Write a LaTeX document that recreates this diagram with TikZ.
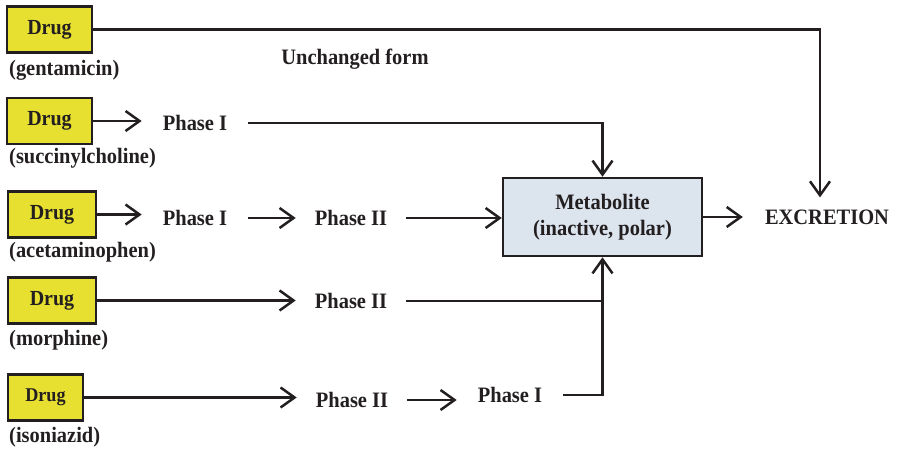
\documentclass[tikz,border=0pt]{standalone}
\usepackage{fontspec}
\setmainfont{Liberation Serif}[FakeStretch=0.93]
\usetikzlibrary{arrows.meta}
\definecolor{ink}{HTML}{231F20}
\definecolor{drugyellow}{HTML}{E8E030}
\definecolor{metblue}{HTML}{DCE4EE}
\tikzset{
  drugbox/.style={draw=ink, line width=2.5pt, fill=drugyellow, minimum height=46pt, inner sep=0pt, font=\fontsize{21.5}{24}\selectfont\bfseries, text=ink},
  lbl/.style={anchor=west, inner sep=0pt, font=\fontsize{22}{24}\selectfont\bfseries, text=ink},
  phase/.style={inner xsep=21pt, inner ysep=4pt, font=\fontsize{22}{24}\selectfont\bfseries, text=ink},
  conn/.style={draw=ink, line width=2.5pt},
  arr/.style={conn, -{Straight Barb[length=14pt,width=20pt,line width=2.5pt]}},
}
\begin{document}
\begin{tikzpicture}[x=1pt,y=-1pt]
\useasboundingbox (0,0) rectangle (898,450);
% drug boxes
\node[drugbox, minimum width=85pt] (d1) at (49.5,29.5) {Drug};
\node[drugbox, minimum width=85pt] (d2) at (49.5,121) {Drug};
\node[drugbox, minimum width=88pt] (d3) at (52,214.5) {Drug};
\node[drugbox, minimum width=88pt] (d4) at (52,300.5) {Drug};
\node[drugbox, minimum width=75pt, font=\fontsize{19.5}{22}\selectfont\bfseries] (d5) at (45.5,397.5) {Drug};
% labels
\node[lbl] (l1) at (9,70) {(gentamicin)};
\node[lbl] (l2) at (9,158) {(succinylcholine)};
\node[lbl] (l3) at (9,252) {(acetaminophen)};
\node[lbl] (l4) at (9,340) {(morphine)};
\node[lbl] (l5) at (9,437) {(isoniazid)};
\node[lbl, anchor=center] (uf) at (355,59) {Unchanged form};
% phases
\node[phase] (p2) at (195,123) {Phase I};
\node[phase] (p31) at (195,218) {Phase I};
\node[phase, inner xsep=19pt] (p32) at (351,218) {Phase II};
\node[phase, inner xsep=19pt] (p4) at (351,301) {Phase II};
\node[phase, inner xsep=19pt] (p51) at (352,400) {Phase II};
\node[phase] (p52) at (510,395) {Phase I};
% metabolite
\node[draw=ink, line width=2.5pt, fill=metblue, minimum width=199pt, minimum height=78pt, align=center, font=\fontsize{22}{26}\selectfont\bfseries, text=ink] (met) at (602.5,217) {Metabolite\\(inactive, polar)};
\node[inner xsep=22pt, inner ysep=12pt, font=\fontsize{22}{24}\selectfont\bfseries, text=ink] (exc) at (827,217) {EXCRETION};
% connectors
\draw[arr] (d1.east) -| ([xshift=-7pt]exc.north);
\draw[arr] (d2.east) -- (d2.east -| p2.west);
\draw[arr] (p2.east) -| (met.north);
\draw[arr] (d3.east) -- (d3.east -| p31.west);
\draw[arr] (p31.east) -- (p32.west);
\draw[arr] (p32.east) -- (p32.east -| met.west);
\draw[arr] (d4.east) -- (d4.east -| p4.west);
\draw[conn] (p4.east) -- (p4.east -| met.south);
\draw[arr] (d5.east) -- (d5.east -| p51.west);
\draw[arr] (p51.east) -- (p51.east -| p52.west);
\draw[arr] (p52.east) -| (met.south);
\draw[arr] (met.east) -- (exc.west);
\end{tikzpicture}
\end{document}
